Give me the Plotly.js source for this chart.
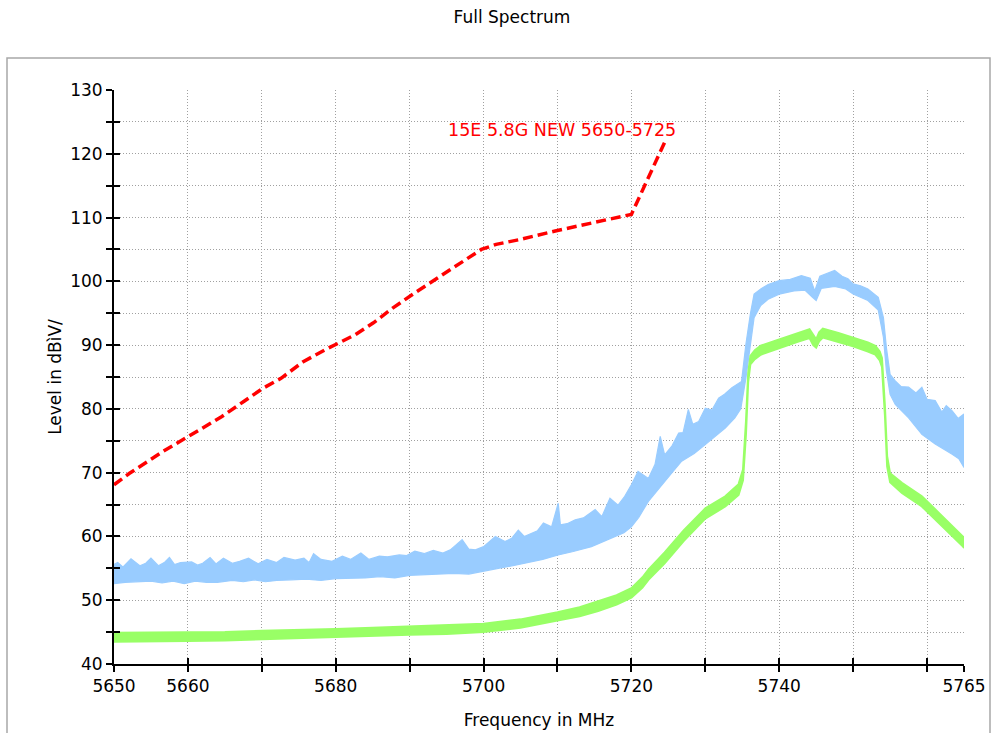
<!DOCTYPE html>
<html>
<head>
<meta charset="utf-8">
<script src="https://cdn.plot.ly/plotly-3.0.1.min.js"></script>
<style>html,body{margin:0;padding:0;background:#fff}#chart{width:998px;height:733px}</style>
</head>
<body>
<div id="chart"></div>
<script>
// ---- Data ----
// Blue trace (noisy band): upper and lower edges
var blueHiF = [5650,5650.5,5651.2,5652.3,5653.5,5654.3,5655,5656,5656.8,5657.5,5658.2,5659,5660.5,5661.3,5662,5663,5663.8,5664.8,5666,5667,5668.2,5669.5,5670.7,5672,5673,5674.5,5675.7,5676.4,5677,5678,5679.5,5680.9,5682,5683.4,5684.5,5685.9,5687,5688.6,5689.6,5690.7,5692,5693.2,5694.5,5695.5,5697.1,5698.0,5698.9,5700,5701.6,5702.9,5703.8,5704.7,5705.5,5706.5,5707.3,5708.1,5709.2,5710.1,5710.4,5711.3,5712.4,5713.5,5715.1,5716,5717.1,5718.2,5719.1,5720,5720.9,5722.3,5723.2,5723.9,5724.5,5725.5,5726.4,5727.0,5727.7,5728.3,5729.1,5730,5730.9,5731.8,5732.6,5733.6,5734.9,5735.5,5736.1,5736.6,5737.5,5738.5,5740,5741.5,5742.3,5743,5744.2,5744.8,5745.5,5746.5,5747.5,5748.5,5749.3,5750,5751,5752,5753.4,5754.1,5754.5,5755,5755.7,5756.5,5757.5,5758.5,5759.3,5760,5761.1,5762,5762.6,5763.4,5764.2,5765];
var blueHiV = [55.6,55.9,55.2,56.5,55.4,55.8,56.6,55.4,55.9,56.7,55.6,55.9,56.0,55.5,55.8,56.7,55.7,56.6,55.8,56.1,56.6,55.7,56.4,55.9,56.7,56.3,56.6,55.9,57.3,56.4,56.1,56.9,56.4,57.4,56.4,56.9,56.8,57.1,57.0,57.7,57.3,57.8,57.4,57.9,59.5,58.0,57.9,58.4,60.0,59.2,59.7,61.0,60.0,60.5,60.9,62.1,61.5,65.2,61.8,62.0,62.6,62.9,64.2,63.1,66.0,64.9,66.3,68.1,70.2,69.1,71.3,75.7,72.8,74.2,76.2,76.3,79.9,77.6,78.0,80.1,79.8,81.7,82.3,83.3,84.3,90.2,94.9,98.0,98.8,99.5,100.1,100.3,100.6,100.9,100.5,98.5,100.8,101.2,101.7,100.8,100.4,99.6,99.3,98.8,97.5,94.3,89.6,85.4,84.4,83.5,83.4,82.5,83.4,81.5,81.3,79.5,80.5,79.7,78.5,79.2];
var blueLoF = [5650,5651.5,5653,5655,5656.5,5658,5659.5,5661,5662.5,5664,5666,5667.5,5669,5670.5,5672,5674,5676,5678,5680,5682,5684,5686,5688,5690,5692,5694,5696,5698,5700,5702,5704.3,5706.5,5708,5710.1,5712,5714.6,5716,5717.8,5719,5720,5721,5722.3,5724.1,5725.5,5726.8,5728.5,5730,5731.5,5732.7,5734,5734.8,5735.5,5736.1,5736.6,5737.5,5738.5,5740,5742,5743.5,5744.5,5745,5745.7,5747.5,5749,5750,5752,5753.4,5754.1,5754.5,5755,5755.7,5757.5,5759.3,5761.1,5763.4,5764.3,5765];
var blueLoV = [52.6,52.8,52.9,53.0,52.7,53.0,52.6,53.0,52.8,52.8,53.1,52.9,53.2,52.9,53.1,53.2,53.3,53.1,53.4,53.4,53.5,53.7,53.5,53.9,53.9,54.1,54.2,54.1,54.5,55.0,55.5,56.0,56.4,57.1,57.6,58.4,59.0,60.0,60.6,61.5,63.0,65.5,68.1,70.0,71.8,73.0,74.4,75.8,77.0,78.6,80.0,84.9,89.6,94.3,96.2,97.2,98.0,98.5,98.6,97.5,97.0,98.9,99.2,98.8,98.0,97.0,95.5,91.2,86.0,82.3,80.7,78.6,76.0,74.5,72.9,72.2,70.8];

// Green trace (band): frequency, upper and lower edges
var greenF  = [5650,5655,5660,5665,5670,5675,5680,5685,5690,5695,5700,5705,5710,5713,5715.5,5718,5720,5721.5,5722.3,5724.5,5727.1,5730,5732.7,5734.5,5735.1,5735.5,5735.8,5736.1,5736.7,5737.5,5740,5742.5,5744.1,5744.6,5745,5745.4,5745.9,5748,5750,5752,5753,5753.6,5753.9,5754.3,5754.6,5755,5756.6,5759.3,5761.6,5764.8,5765];
var greenHi = [44.9,44.9,44.9,45.0,45.2,45.3,45.5,45.7,45.9,46.0,46.3,47.0,48.1,48.9,49.8,50.8,51.9,53.6,54.8,57.5,61.0,64.4,66.3,68.2,70.5,78.0,85.6,88.3,89.2,89.9,90.9,91.9,92.5,91.6,90.9,92.0,92.6,91.9,91.2,90.4,89.9,89.0,88.0,80.5,72.6,69.9,68.4,66.3,63.7,60.1,59.8];
var greenLo = [43.5,43.6,43.6,43.7,43.9,44.0,44.2,44.4,44.6,44.7,45.0,45.7,46.8,47.5,48.3,49.3,50.4,52.0,53.2,55.8,59.3,62.8,64.7,66.5,68.8,76.0,84.2,87.0,87.8,88.5,89.5,90.5,91.1,90.0,89.6,90.6,91.2,90.5,89.8,89.0,88.5,87.6,86.6,79.0,71.0,68.5,66.8,64.7,62.1,58.5,58.2];

// Red limit line "15E 5.8G NEW 5650-5725"
var limitF = [5650,5652.1,5656.6,5659.6,5662.1,5664.6,5667.6,5670.1,5672.6,5675.6,5678.6,5682.6,5685.1,5687.7,5690.7,5693.7,5697.2,5699.7,5701.7,5704.7,5709.7,5714.7,5720,5724.7];
var limitV = [68.1,69.9,73.3,75.4,77.0,78.8,81.2,83.2,84.8,87.4,89.3,91.6,93.5,95.8,98.2,100.5,103.1,105.0,105.8,106.5,107.9,109.2,110.5,122.3];
var limitName = "15E 5.8G NEW 5650-5725";

// Axis ticks
var xTickVals = [5650,5660,5670,5680,5690,5700,5710,5720,5730,5740,5750,5760,5765];
var xTickText = ["5650","5660","","5680","","5700","","5720","","5740","","","5765"];
var yTickVals = [40,45,50,55,60,65,70,75,80,85,90,95,100,105,110,115,120,125,130];
var yTickText = ["40","","50","","60","","70","","80","","90","","100","","110","","120","","130"];

// ---- Build polygons from the edge arrays ----
function band(fHi, vHi, fLo, vLo) {
  var x = fHi.slice(), y = vHi.slice();
  for (var i = fLo.length - 1; i >= 0; i--) { x.push(fLo[i]); y.push(vLo[i]); }
  x.push(fHi[0]); y.push(vHi[0]);
  return {x: x, y: y};
}
var blueBand = band(blueHiF, blueHiV, blueLoF, blueLoV);
var greenBand = band(greenF, greenHi, greenF, greenLo);

var FONT = "DejaVu Sans, Arial, sans-serif";
var blue = "#99ccff", green = "#99ff66";

var traces = [
  {x: blueBand.x, y: blueBand.y, type: "scatter", mode: "lines", fill: "toself",
   fillcolor: blue, line: {color: blue, width: 1.2}, hoverinfo: "skip", showlegend: false},
  {x: greenBand.x, y: greenBand.y, type: "scatter", mode: "lines", fill: "toself",
   fillcolor: green, line: {color: green, width: 2}, hoverinfo: "skip", showlegend: false},
  {x: limitF, y: limitV, type: "scatter", mode: "lines", name: limitName,
   line: {color: "#ff0000", width: 3.5, dash: "10px,5px"}, showlegend: false},
  {x: [], y: [], xaxis: "x2", yaxis: "y2", type: "scatter", showlegend: false}
];

var xRange = [5650, 5765], yRange = [40, 130];
var L = 114, R = 34, T = 90, B = 69, W = 998, H = 733;
var pw = W - L - R, ph = H - T - B;

var layout = {
  width: W, height: H,
  margin: {l: L, r: R, t: T, b: B},
  paper_bgcolor: "#ffffff", plot_bgcolor: "#ffffff",
  font: {family: FONT, size: 17, color: "#000000"},
  title: {text: "Full Spectrum", font: {family: FONT, size: 17, color: "#000"},
          x: 512 / W, xanchor: "center", y: 1 - 17 / H, yanchor: "middle"},
  xaxis: {
    range: xRange, tickmode: "array", tickvals: xTickVals, ticktext: xTickText,
    showgrid: true, gridcolor: "#a0a0a0", griddash: "1px,2px", gridwidth: 1,
    zeroline: false, showline: true, linecolor: "#000", linewidth: 2,
    ticks: "outside", ticklen: 6, tickwidth: 2, tickcolor: "#000",
    tickfont: {family: FONT, size: 17, color: "#000"},
    title: {text: "Frequency in MHz", font: {family: FONT, size: 17, color: "#000"}, standoff: 19}
  },
  yaxis: {
    range: yRange, tickmode: "array", tickvals: yTickVals, ticktext: yTickText,
    showgrid: true, gridcolor: "#a0a0a0", griddash: "1px,2px", gridwidth: 1,
    zeroline: false, showline: true, linecolor: "#000", linewidth: 2,
    ticks: "outside", ticklen: 6, tickwidth: 2, tickcolor: "#000",
    tickfont: {family: FONT, size: 17, color: "#000"},
    title: {text: "Level in dBìV/", font: {family: FONT, size: 17, color: "#000"}, standoff: 4}
  },
  xaxis2: {range: xRange, overlaying: "x", anchor: "y2", side: "bottom",
    tickmode: "array", tickvals: xTickVals, showticklabels: false, showgrid: false,
    zeroline: false, showline: false, ticks: "inside", ticklen: 6, tickwidth: 2, tickcolor: "#000"},
  yaxis2: {range: yRange, overlaying: "y", anchor: "x2", side: "left",
    tickmode: "array", tickvals: yTickVals, showticklabels: false, showgrid: false,
    zeroline: false, showline: false, ticks: "inside", ticklen: 6, tickwidth: 2, tickcolor: "#000"},
  annotations: [{
    x: limitF[limitF.length - 1], y: limitV[limitV.length - 1], xref: "x", yref: "y",
    text: limitName, showarrow: false, xanchor: "right", yanchor: "middle",
    xshift: 12, yshift: 9, font: {family: FONT, size: 17.5, color: "#ff0000"}
  }],
  shapes: [{
    type: "rect", xref: "paper", yref: "paper", layer: "below",
    x0: (7 - L) / pw, x1: (990 - L) / pw,
    y0: (H - B - 745) / ph, y1: (H - B - 58) / ph,
    line: {color: "#a8a8a8", width: 1.5}, fillcolor: "rgba(0,0,0,0)"
  }]
};

Plotly.newPlot("chart", traces, layout, {displayModeBar: false, staticPlot: true});
</script>
</body>
</html>
